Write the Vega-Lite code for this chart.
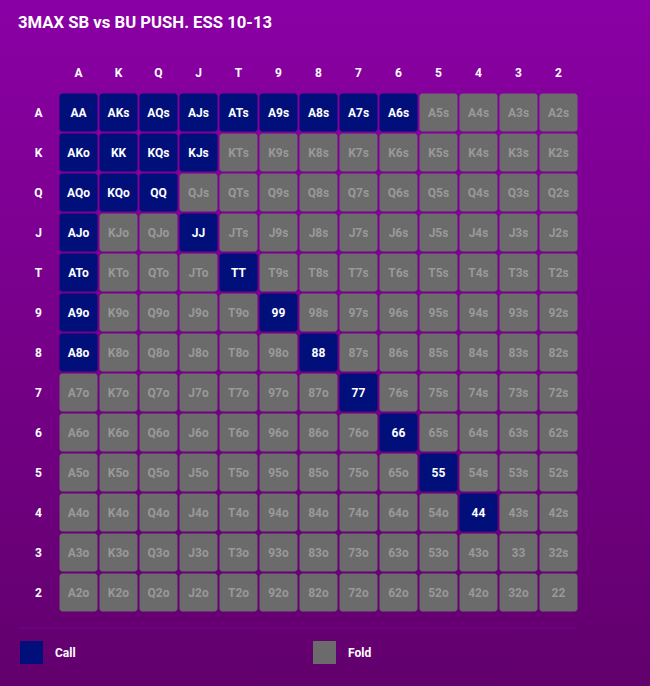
{
  "$schema": "https://vega.github.io/schema/vega-lite/v6.json",
  "width": 650,
  "height": 686,
  "autosize": {"type": "none"},
  "padding": 0,
  "background": "#76008a",
  "config": {
    "font": "Roboto",
    "view": {
      "stroke": null,
      "fill": {"gradient": "linear", "x1": 0, "y1": 0, "x2": 0, "y2": 1, "stops": [{"offset": 0, "color": "#8a00a4"}, {"offset": 1, "color": "#62006d"}]}
    }
  },
  "title": {
    "text": "3MAX SB vs BU PUSH. ESS 10-13",
    "anchor": "start",
    "frame": "group",
    "orient": "top",
    "offset": -45,
    "baseline": "alphabetic",
    "dx": 18,
    "fontSize": 16.7,
    "fontWeight": "bold",
    "font": "Roboto",
    "color": "#ffffff"
  },
  "datasets": {
    "hands": [
      {"r":"A","c":"A","h":"AA","a":"Call"},{"r":"A","c":"K","h":"AKs","a":"Call"},{"r":"A","c":"Q","h":"AQs","a":"Call"},{"r":"A","c":"J","h":"AJs","a":"Call"},{"r":"A","c":"T","h":"ATs","a":"Call"},{"r":"A","c":"9","h":"A9s","a":"Call"},{"r":"A","c":"8","h":"A8s","a":"Call"},{"r":"A","c":"7","h":"A7s","a":"Call"},{"r":"A","c":"6","h":"A6s","a":"Call"},{"r":"A","c":"5","h":"A5s","a":"Fold"},{"r":"A","c":"4","h":"A4s","a":"Fold"},{"r":"A","c":"3","h":"A3s","a":"Fold"},{"r":"A","c":"2","h":"A2s","a":"Fold"},
      {"r":"K","c":"A","h":"AKo","a":"Call"},{"r":"K","c":"K","h":"KK","a":"Call"},{"r":"K","c":"Q","h":"KQs","a":"Call"},{"r":"K","c":"J","h":"KJs","a":"Call"},{"r":"K","c":"T","h":"KTs","a":"Fold"},{"r":"K","c":"9","h":"K9s","a":"Fold"},{"r":"K","c":"8","h":"K8s","a":"Fold"},{"r":"K","c":"7","h":"K7s","a":"Fold"},{"r":"K","c":"6","h":"K6s","a":"Fold"},{"r":"K","c":"5","h":"K5s","a":"Fold"},{"r":"K","c":"4","h":"K4s","a":"Fold"},{"r":"K","c":"3","h":"K3s","a":"Fold"},{"r":"K","c":"2","h":"K2s","a":"Fold"},
      {"r":"Q","c":"A","h":"AQo","a":"Call"},{"r":"Q","c":"K","h":"KQo","a":"Call"},{"r":"Q","c":"Q","h":"QQ","a":"Call"},{"r":"Q","c":"J","h":"QJs","a":"Fold"},{"r":"Q","c":"T","h":"QTs","a":"Fold"},{"r":"Q","c":"9","h":"Q9s","a":"Fold"},{"r":"Q","c":"8","h":"Q8s","a":"Fold"},{"r":"Q","c":"7","h":"Q7s","a":"Fold"},{"r":"Q","c":"6","h":"Q6s","a":"Fold"},{"r":"Q","c":"5","h":"Q5s","a":"Fold"},{"r":"Q","c":"4","h":"Q4s","a":"Fold"},{"r":"Q","c":"3","h":"Q3s","a":"Fold"},{"r":"Q","c":"2","h":"Q2s","a":"Fold"},
      {"r":"J","c":"A","h":"AJo","a":"Call"},{"r":"J","c":"K","h":"KJo","a":"Fold"},{"r":"J","c":"Q","h":"QJo","a":"Fold"},{"r":"J","c":"J","h":"JJ","a":"Call"},{"r":"J","c":"T","h":"JTs","a":"Fold"},{"r":"J","c":"9","h":"J9s","a":"Fold"},{"r":"J","c":"8","h":"J8s","a":"Fold"},{"r":"J","c":"7","h":"J7s","a":"Fold"},{"r":"J","c":"6","h":"J6s","a":"Fold"},{"r":"J","c":"5","h":"J5s","a":"Fold"},{"r":"J","c":"4","h":"J4s","a":"Fold"},{"r":"J","c":"3","h":"J3s","a":"Fold"},{"r":"J","c":"2","h":"J2s","a":"Fold"},
      {"r":"T","c":"A","h":"ATo","a":"Call"},{"r":"T","c":"K","h":"KTo","a":"Fold"},{"r":"T","c":"Q","h":"QTo","a":"Fold"},{"r":"T","c":"J","h":"JTo","a":"Fold"},{"r":"T","c":"T","h":"TT","a":"Call"},{"r":"T","c":"9","h":"T9s","a":"Fold"},{"r":"T","c":"8","h":"T8s","a":"Fold"},{"r":"T","c":"7","h":"T7s","a":"Fold"},{"r":"T","c":"6","h":"T6s","a":"Fold"},{"r":"T","c":"5","h":"T5s","a":"Fold"},{"r":"T","c":"4","h":"T4s","a":"Fold"},{"r":"T","c":"3","h":"T3s","a":"Fold"},{"r":"T","c":"2","h":"T2s","a":"Fold"},
      {"r":"9","c":"A","h":"A9o","a":"Call"},{"r":"9","c":"K","h":"K9o","a":"Fold"},{"r":"9","c":"Q","h":"Q9o","a":"Fold"},{"r":"9","c":"J","h":"J9o","a":"Fold"},{"r":"9","c":"T","h":"T9o","a":"Fold"},{"r":"9","c":"9","h":"99","a":"Call"},{"r":"9","c":"8","h":"98s","a":"Fold"},{"r":"9","c":"7","h":"97s","a":"Fold"},{"r":"9","c":"6","h":"96s","a":"Fold"},{"r":"9","c":"5","h":"95s","a":"Fold"},{"r":"9","c":"4","h":"94s","a":"Fold"},{"r":"9","c":"3","h":"93s","a":"Fold"},{"r":"9","c":"2","h":"92s","a":"Fold"},
      {"r":"8","c":"A","h":"A8o","a":"Call"},{"r":"8","c":"K","h":"K8o","a":"Fold"},{"r":"8","c":"Q","h":"Q8o","a":"Fold"},{"r":"8","c":"J","h":"J8o","a":"Fold"},{"r":"8","c":"T","h":"T8o","a":"Fold"},{"r":"8","c":"9","h":"98o","a":"Fold"},{"r":"8","c":"8","h":"88","a":"Call"},{"r":"8","c":"7","h":"87s","a":"Fold"},{"r":"8","c":"6","h":"86s","a":"Fold"},{"r":"8","c":"5","h":"85s","a":"Fold"},{"r":"8","c":"4","h":"84s","a":"Fold"},{"r":"8","c":"3","h":"83s","a":"Fold"},{"r":"8","c":"2","h":"82s","a":"Fold"},
      {"r":"7","c":"A","h":"A7o","a":"Fold"},{"r":"7","c":"K","h":"K7o","a":"Fold"},{"r":"7","c":"Q","h":"Q7o","a":"Fold"},{"r":"7","c":"J","h":"J7o","a":"Fold"},{"r":"7","c":"T","h":"T7o","a":"Fold"},{"r":"7","c":"9","h":"97o","a":"Fold"},{"r":"7","c":"8","h":"87o","a":"Fold"},{"r":"7","c":"7","h":"77","a":"Call"},{"r":"7","c":"6","h":"76s","a":"Fold"},{"r":"7","c":"5","h":"75s","a":"Fold"},{"r":"7","c":"4","h":"74s","a":"Fold"},{"r":"7","c":"3","h":"73s","a":"Fold"},{"r":"7","c":"2","h":"72s","a":"Fold"},
      {"r":"6","c":"A","h":"A6o","a":"Fold"},{"r":"6","c":"K","h":"K6o","a":"Fold"},{"r":"6","c":"Q","h":"Q6o","a":"Fold"},{"r":"6","c":"J","h":"J6o","a":"Fold"},{"r":"6","c":"T","h":"T6o","a":"Fold"},{"r":"6","c":"9","h":"96o","a":"Fold"},{"r":"6","c":"8","h":"86o","a":"Fold"},{"r":"6","c":"7","h":"76o","a":"Fold"},{"r":"6","c":"6","h":"66","a":"Call"},{"r":"6","c":"5","h":"65s","a":"Fold"},{"r":"6","c":"4","h":"64s","a":"Fold"},{"r":"6","c":"3","h":"63s","a":"Fold"},{"r":"6","c":"2","h":"62s","a":"Fold"},
      {"r":"5","c":"A","h":"A5o","a":"Fold"},{"r":"5","c":"K","h":"K5o","a":"Fold"},{"r":"5","c":"Q","h":"Q5o","a":"Fold"},{"r":"5","c":"J","h":"J5o","a":"Fold"},{"r":"5","c":"T","h":"T5o","a":"Fold"},{"r":"5","c":"9","h":"95o","a":"Fold"},{"r":"5","c":"8","h":"85o","a":"Fold"},{"r":"5","c":"7","h":"75o","a":"Fold"},{"r":"5","c":"6","h":"65o","a":"Fold"},{"r":"5","c":"5","h":"55","a":"Call"},{"r":"5","c":"4","h":"54s","a":"Fold"},{"r":"5","c":"3","h":"53s","a":"Fold"},{"r":"5","c":"2","h":"52s","a":"Fold"},
      {"r":"4","c":"A","h":"A4o","a":"Fold"},{"r":"4","c":"K","h":"K4o","a":"Fold"},{"r":"4","c":"Q","h":"Q4o","a":"Fold"},{"r":"4","c":"J","h":"J4o","a":"Fold"},{"r":"4","c":"T","h":"T4o","a":"Fold"},{"r":"4","c":"9","h":"94o","a":"Fold"},{"r":"4","c":"8","h":"84o","a":"Fold"},{"r":"4","c":"7","h":"74o","a":"Fold"},{"r":"4","c":"6","h":"64o","a":"Fold"},{"r":"4","c":"5","h":"54o","a":"Fold"},{"r":"4","c":"4","h":"44","a":"Call"},{"r":"4","c":"3","h":"43s","a":"Fold"},{"r":"4","c":"2","h":"42s","a":"Fold"},
      {"r":"3","c":"A","h":"A3o","a":"Fold"},{"r":"3","c":"K","h":"K3o","a":"Fold"},{"r":"3","c":"Q","h":"Q3o","a":"Fold"},{"r":"3","c":"J","h":"J3o","a":"Fold"},{"r":"3","c":"T","h":"T3o","a":"Fold"},{"r":"3","c":"9","h":"93o","a":"Fold"},{"r":"3","c":"8","h":"83o","a":"Fold"},{"r":"3","c":"7","h":"73o","a":"Fold"},{"r":"3","c":"6","h":"63o","a":"Fold"},{"r":"3","c":"5","h":"53o","a":"Fold"},{"r":"3","c":"4","h":"43o","a":"Fold"},{"r":"3","c":"3","h":"33","a":"Fold"},{"r":"3","c":"2","h":"32s","a":"Fold"},
      {"r":"2","c":"A","h":"A2o","a":"Fold"},{"r":"2","c":"K","h":"K2o","a":"Fold"},{"r":"2","c":"Q","h":"Q2o","a":"Fold"},{"r":"2","c":"J","h":"J2o","a":"Fold"},{"r":"2","c":"T","h":"T2o","a":"Fold"},{"r":"2","c":"9","h":"92o","a":"Fold"},{"r":"2","c":"8","h":"82o","a":"Fold"},{"r":"2","c":"7","h":"72o","a":"Fold"},{"r":"2","c":"6","h":"62o","a":"Fold"},{"r":"2","c":"5","h":"52o","a":"Fold"},{"r":"2","c":"4","h":"42o","a":"Fold"},{"r":"2","c":"3","h":"32o","a":"Fold"},{"r":"2","c":"2","h":"22","a":"Fold"}
    ],
    "labels": [
      {"r":"_","c":"A","h":"A"},{"r":"_","c":"K","h":"K"},{"r":"_","c":"Q","h":"Q"},{"r":"_","c":"J","h":"J"},{"r":"_","c":"T","h":"T"},{"r":"_","c":"9","h":"9"},{"r":"_","c":"8","h":"8"},{"r":"_","c":"7","h":"7"},{"r":"_","c":"6","h":"6"},{"r":"_","c":"5","h":"5"},{"r":"_","c":"4","h":"4"},{"r":"_","c":"3","h":"3"},{"r":"_","c":"2","h":"2"},
      {"r":"A","c":"_","h":"A"},{"r":"K","c":"_","h":"K"},{"r":"Q","c":"_","h":"Q"},{"r":"J","c":"_","h":"J"},{"r":"T","c":"_","h":"T"},{"r":"9","c":"_","h":"9"},{"r":"8","c":"_","h":"8"},{"r":"7","c":"_","h":"7"},{"r":"6","c":"_","h":"6"},{"r":"5","c":"_","h":"5"},{"r":"4","c":"_","h":"4"},{"r":"3","c":"_","h":"3"},{"r":"2","c":"_","h":"2"}
    ],
    "sep": [{"r": "~", "c": "_", "c2": "2"}]
  },
  "encoding": {
    "x": {"field": "c", "type": "ordinal", "axis": null,
      "scale": {"domain": ["_","A","K","Q","J","T","9","8","7","6","5","4","3","2"], "range": [18.5, 578.5], "paddingInner": 0.05, "paddingOuter": 0.025}},
    "y": {"field": "r", "type": "ordinal", "axis": null,
      "scale": {"domain": ["_","A","K","Q","J","T","9","8","7","6","5","4","3","2","~"], "range": [52.5, 652.5], "paddingInner": 0.05, "paddingOuter": 0.025}}
  },
  "layer": [
    {
      "data": {"name": "sep"},
      "mark": {"type": "rule", "stroke": "#78008e", "strokeWidth": 1},
      "encoding": {
        "x": {"field": "c", "type": "ordinal", "bandPosition": 0},
        "x2": {"field": "c2", "bandPosition": 1},
        "y": {"field": "r", "type": "ordinal", "bandPosition": 0.38}
      }
    },
    {
      "data": {"name": "hands"},
      "mark": {"type": "rect", "cornerRadius": 3},
      "encoding": {
        "color": {"field": "a", "type": "nominal",
          "scale": {"domain": ["Call", "Fold"], "range": ["#000f7a", "#6b6b6b"]},
          "legend": {"orient": "none", "legendX": 20, "legendY": 641, "direction": "horizontal", "title": null,
            "symbolType": "square", "symbolSize": 529, "symbolStrokeWidth": 0, "symbolOpacity": 1,
            "labelColor": "#ffffff", "labelFont": "Roboto", "labelFontSize": 12, "labelFontWeight": "bold",
            "labelOffset": 12, "columnPadding": 237}}
      }
    },
    {
      "data": {"name": "hands"},
      "mark": {"type": "text", "font": "Roboto", "fontSize": 12, "fontWeight": "bold"},
      "encoding": {
        "text": {"field": "h"},
        "color": {"condition": {"test": "datum.a === 'Call'", "value": "#ffffff"}, "value": "#999999"}
      }
    },
    {
      "data": {"name": "labels"},
      "mark": {"type": "text", "font": "Roboto", "fontSize": 12, "fontWeight": "bold", "color": "#ffffff"},
      "encoding": {"text": {"field": "h"}}
    }
  ]
}
